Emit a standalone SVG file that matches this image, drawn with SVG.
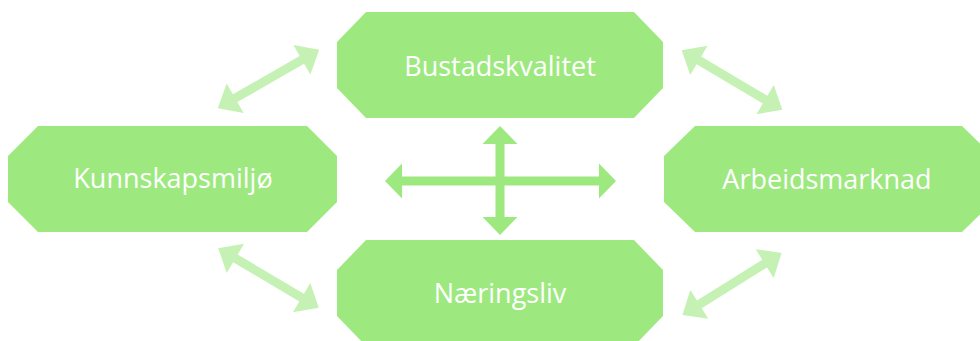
<svg xmlns="http://www.w3.org/2000/svg" width="980" height="341" viewBox="0 0 980 341">
<style>
.node{fill:#9de97f}
.lbl{fill:#ffffff;font-family:"Open Sans","Noto Sans",sans-serif;font-size:27px;text-anchor:middle}
.diag{fill:#c5f2b4}
.cross{fill:#9de97f}
</style>
<defs>
<path id="darr" d="M-58.5,0 L-38.5,-17 L-38.5,-4.5 L38.5,-4.5 L38.5,-17 L58.5,0 L38.5,17 L38.5,4.5 L-38.5,4.5 L-38.5,17 Z"/>
</defs>
<rect width="980" height="341" fill="#ffffff"/>
<g id="connectors">
<use href="#darr" class="diag" transform="translate(268.5,79) rotate(-29.9)"/>
<use href="#darr" class="diag" transform="translate(732,80) rotate(30.7)"/>
<use href="#darr" class="diag" transform="translate(268.5,278) rotate(30.7)"/>
<use href="#darr" class="diag" transform="translate(732,284) rotate(-32)"/>
<path class="cross" d="M385,181 L402,163.5 L402,176.5 L495.5,176.5 L495.5,144 L482.5,144 L500,126 L517.5,144 L504.5,144 L504.5,176.5 L599,176.5 L599,163.5 L616,181 L599,198.5 L599,185.5 L504.5,185.5 L504.5,217 L517.5,217 L500,235 L482.5,217 L495.5,217 L495.5,185.5 L402,185.5 L402,198.5 Z"/>
</g>
<g id="node-bustadskvalitet">
<polygon class="node" points="366,12 634,12 663,42 663,88 634,118 366,118 337,88 337,42"/>
<text class="lbl" x="500" y="76">Bustadskvalitet</text>
</g>
<g id="node-kunnskapsmiljo">
<polygon class="node" points="38,126 307,126 337,156 337,202 307,232 38,232 8,202 8,156"/>
<text class="lbl" x="173" y="188">Kunnskapsmiljø</text>
</g>
<g id="node-arbeidsmarknad">
<polygon class="node" points="695,126 962,126 993,156 993,202 962,232 695,232 664,202 664,156"/>
<text class="lbl" x="827" y="189">Arbeidsmarknad</text>
</g>
<g id="node-naeringsliv">
<polygon class="node" points="366,240 634,240 663,270 663,316 634,346 366,346 337,316 337,270"/>
<text class="lbl" x="500" y="303">Næringsliv</text>
</g>
</svg>
